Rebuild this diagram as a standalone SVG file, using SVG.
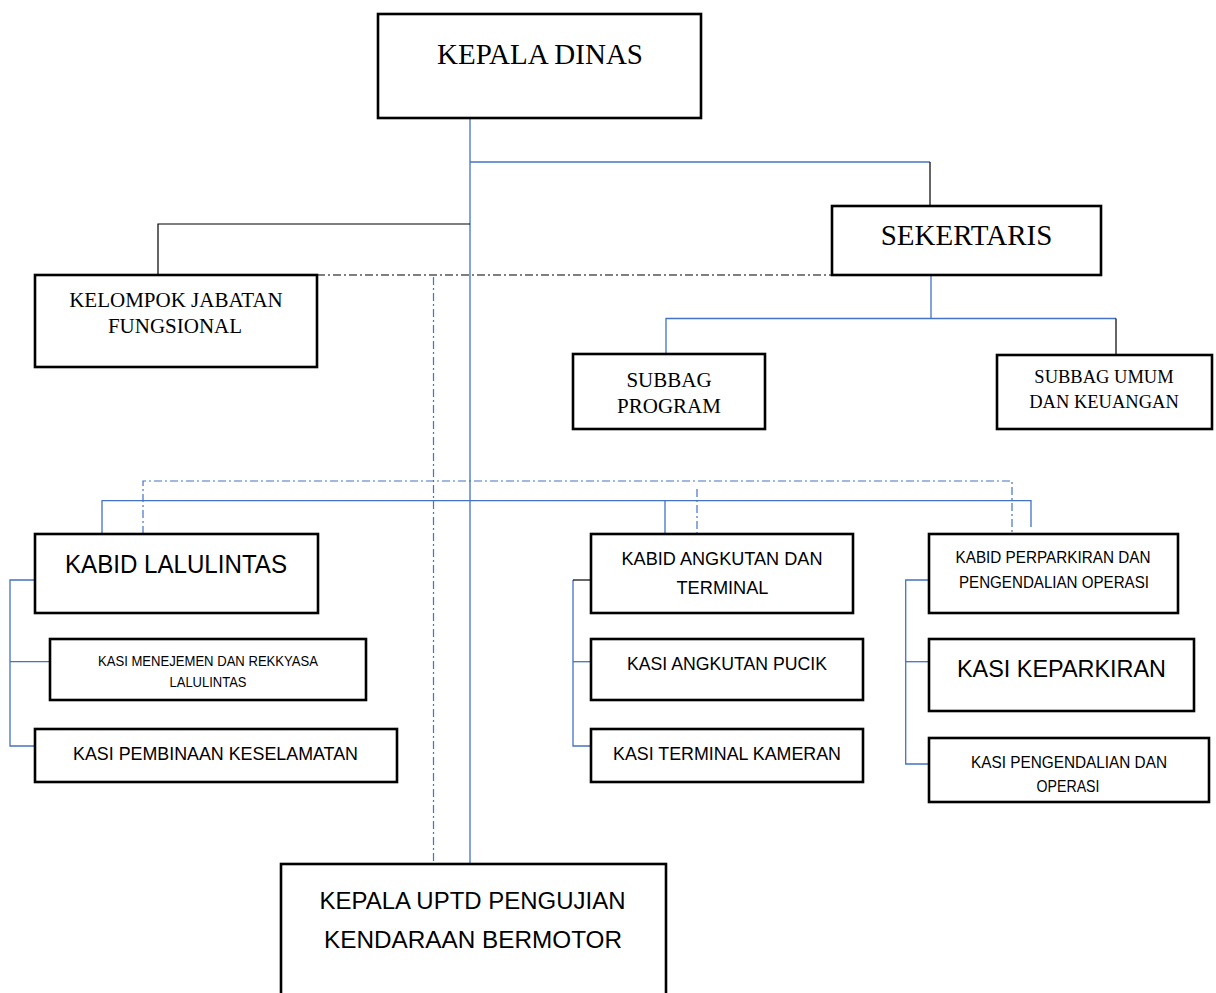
<svg xmlns="http://www.w3.org/2000/svg" width="1216" height="993" viewBox="0 0 1216 993">
<style>
.box{fill:#fff;stroke:#000;stroke-width:2.6}
.blue{fill:none;stroke:#4472C4;stroke-width:1.3}
.blk{fill:none;stroke:#000;stroke-width:1.2}
.bdd{fill:none;stroke:#4472C4;stroke-width:1.2;stroke-dasharray:8 3 2 3}
.kdd{fill:none;stroke:#000;stroke-width:1.2;stroke-dasharray:8 3 2 3}
.tr{font-family:"Liberation Serif","Times New Roman",serif;fill:#000;text-anchor:middle}
.sa{font-family:"Liberation Sans",Arial,sans-serif;fill:#000;text-anchor:middle}
</style>
<rect width="1216" height="993" fill="#fff"/>
<g id="connectors">
<path class="blue" d="M470 118V864"/>
<path class="blue" d="M470 162H930"/>
<path class="blk" d="M930 162V206"/>
<path class="blk" d="M470 224H158V275"/>
<path class="kdd" d="M317 275H832"/>
<path class="bdd" d="M433.5 277V873"/>
<path class="blue" d="M931 275V318.5"/>
<path class="blue" d="M666 354V318.5H1116"/>
<path class="blk" d="M1116 318.5V355"/>
<path class="bdd" d="M143 534V481H1012V543"/>
<path class="bdd" d="M697 489V534"/>
<path class="blue" d="M102 534V500.7H1031V527"/>
<path class="blue" d="M665 500.7V534"/>
<path class="blue" d="M35 580H10V746H35"/>
<path class="blue" d="M10 661.7H50"/>
<path class="blue" d="M573 580V746H591"/>
<path class="blk" d="M573 580H591"/>
<path class="blue" d="M573 661.7H591"/>
<path class="blue" d="M929 580H905.7V764H929"/>
<path class="blue" d="M905.7 661.7H929"/>
</g>
<g id="kepala-dinas">
<rect class="box" x="378" y="14" width="323" height="104"/>
<text class="tr" x="540" y="64" font-size="29">KEPALA DINAS</text>
</g>
<g id="sekertaris">
<rect class="box" x="832" y="206" width="269" height="69"/>
<text class="tr" x="966.5" y="245" font-size="29">SEKERTARIS</text>
</g>
<g id="kelompok">
<rect class="box" x="35" y="275" width="282" height="92"/>
<text class="tr" x="176" y="307.3" font-size="21">KELOMPOK JABATAN</text>
<text class="tr" x="175" y="332.7" font-size="21">FUNGSIONAL</text>
</g>
<g id="subbag-program">
<rect class="box" x="573" y="354" width="192" height="75"/>
<text class="tr" x="669" y="386.7" font-size="21">SUBBAG</text>
<text class="tr" x="669" y="412.7" font-size="21">PROGRAM</text>
</g>
<g id="subbag-umum">
<rect class="box" x="997" y="355" width="215" height="74"/>
<text class="tr" x="1104" y="383" font-size="18.5">SUBBAG UMUM</text>
<text class="tr" x="1104" y="408" font-size="18.5">DAN KEUANGAN</text>
</g>
<g id="kabid-lalulintas">
<rect class="box" x="35" y="534" width="283" height="79"/>
<text class="sa" x="176" y="573" font-size="26" textLength="222" lengthAdjust="spacingAndGlyphs">KABID LALULINTAS</text>
</g>
<g id="kasi-menejemen">
<rect class="box" x="50" y="639" width="316" height="61"/>
<text class="sa" x="208" y="666" font-size="14" textLength="220" lengthAdjust="spacingAndGlyphs">KASI MENEJEMEN DAN REKKYASA</text>
<text class="sa" x="208" y="687" font-size="14" textLength="77" lengthAdjust="spacingAndGlyphs">LALULINTAS</text>
</g>
<g id="kasi-pembinaan">
<rect class="box" x="35" y="729" width="362" height="53"/>
<text class="sa" x="215.5" y="760" font-size="18.5" textLength="285" lengthAdjust="spacingAndGlyphs">KASI PEMBINAAN KESELAMATAN</text>
</g>
<g id="kabid-angkutan">
<rect class="box" x="591" y="534" width="262" height="79"/>
<text class="sa" x="722" y="565" font-size="18.5" textLength="201" lengthAdjust="spacingAndGlyphs">KABID ANGKUTAN DAN</text>
<text class="sa" x="722.5" y="594" font-size="18.5" textLength="92" lengthAdjust="spacingAndGlyphs">TERMINAL</text>
</g>
<g id="kasi-angkutan">
<rect class="box" x="591" y="639" width="272" height="61"/>
<text class="sa" x="727" y="670" font-size="18.5" textLength="200" lengthAdjust="spacingAndGlyphs">KASI ANGKUTAN PUCIK</text>
</g>
<g id="kasi-terminal">
<rect class="box" x="591" y="729" width="272" height="53"/>
<text class="sa" x="727" y="760" font-size="18.5" textLength="228" lengthAdjust="spacingAndGlyphs">KASI TERMINAL KAMERAN</text>
</g>
<g id="kabid-perparkiran">
<rect class="box" x="929" y="534" width="249" height="79"/>
<text class="sa" x="1053" y="563" font-size="17" textLength="195" lengthAdjust="spacingAndGlyphs">KABID PERPARKIRAN DAN</text>
<text class="sa" x="1054" y="588" font-size="17" textLength="190" lengthAdjust="spacingAndGlyphs">PENGENDALIAN OPERASI</text>
</g>
<g id="kasi-keparkiran">
<rect class="box" x="929" y="639" width="265" height="72"/>
<text class="sa" x="1061.5" y="677" font-size="24" textLength="209" lengthAdjust="spacingAndGlyphs">KASI KEPARKIRAN</text>
</g>
<g id="kasi-pengendalian">
<rect class="box" x="929" y="738" width="280" height="64"/>
<text class="sa" x="1069" y="768" font-size="16.5" textLength="196" lengthAdjust="spacingAndGlyphs">KASI PENGENDALIAN DAN</text>
<text class="sa" x="1068" y="792" font-size="16.5" textLength="63" lengthAdjust="spacingAndGlyphs">OPERASI</text>
</g>
<g id="kepala-uptd">
<rect class="box" x="281" y="864" width="385" height="140"/>
<text class="sa" x="472.5" y="909" font-size="24.7" textLength="306" lengthAdjust="spacingAndGlyphs">KEPALA UPTD PENGUJIAN</text>
<text class="sa" x="473" y="948" font-size="24.7" textLength="298" lengthAdjust="spacingAndGlyphs">KENDARAAN BERMOTOR</text>
</g>
</svg>
